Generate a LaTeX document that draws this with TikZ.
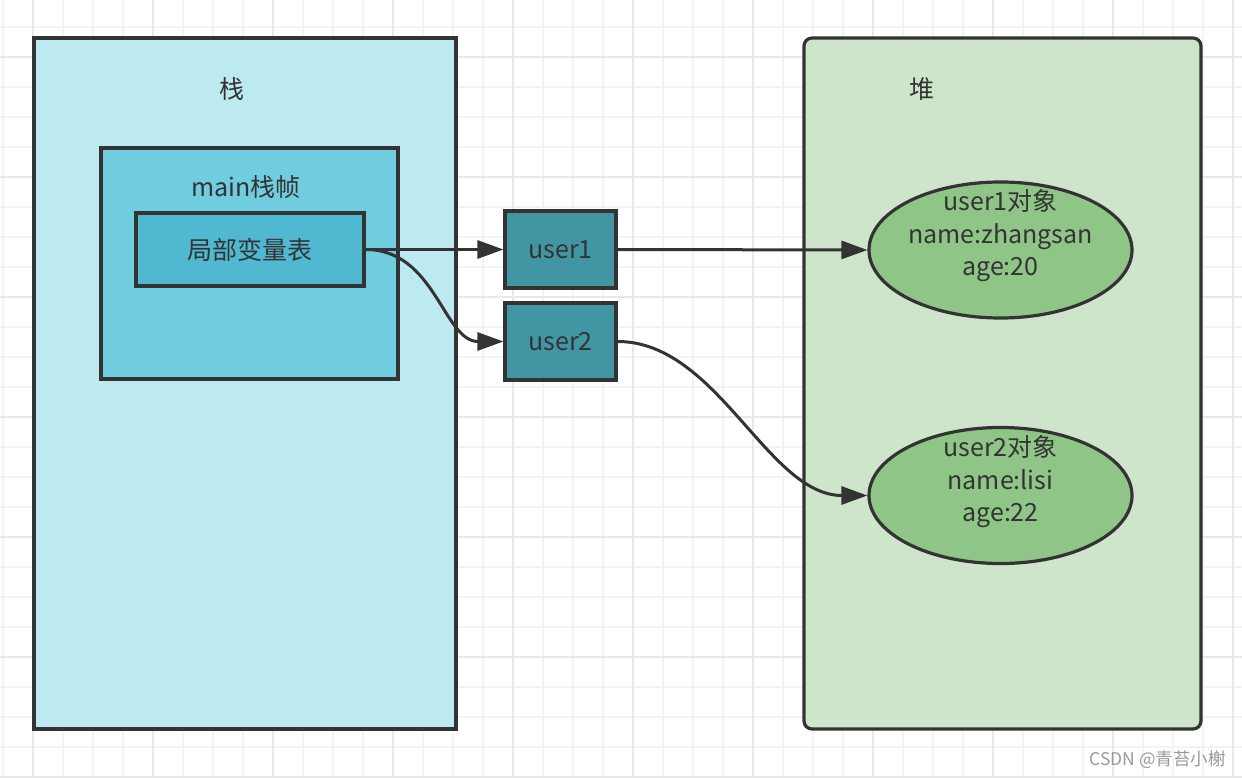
\documentclass[tikz,border=0pt]{standalone}
\usepackage{fontspec}
\setmainfont{Noto Sans CJK SC}
\usetikzlibrary{arrows.meta,shapes.geometric}
\definecolor{ink}{HTML}{333333}
\definecolor{stackfill}{HTML}{BDE9F0}
\definecolor{framefill}{HTML}{70CDDF}
\definecolor{tablefill}{HTML}{50B9D1}
\definecolor{userfill}{HTML}{4295A3}
\definecolor{heapfill}{HTML}{CFE5CB}
\definecolor{objfill}{HTML}{90C588}
\definecolor{gridminor}{HTML}{F3F3F3}
\definecolor{gridmajor}{HTML}{E8E8E8}
\definecolor{wm}{HTML}{9A9A9A}
\tikzset{
  box/.style={draw=ink, line width=3.2pt, inner sep=0pt, text=ink},
  lbl/.style={text=ink, inner sep=0pt, font=\fontsize{25}{30}\selectfont},
  obj/.style={draw=ink, line width=3.2pt, fill=objfill, ellipse, inner sep=0pt, minimum width=263pt, minimum height=136pt},
  objtxt/.style={text=ink, inner sep=0pt, align=center, font=\fontsize{25}{32.5}\selectfont},
  link/.style={draw=ink, line width=3pt, -{Triangle[length=26pt,width=18pt]}},
}
\begin{document}
\begin{tikzpicture}[x=1pt,y=-1pt]
\useasboundingbox (0,0) rectangle (1242,778);
\fill[white] (0,0) rectangle (1242,778);
% grid
\foreach \gx in {3,33,...,1242} \draw[gridminor, line width=1.5pt] (\gx,0) -- (\gx,778);
\foreach \gy in {27,57,...,778} \draw[gridminor, line width=1.5pt] (0,\gy) -- (1242,\gy);
\foreach \gx in {33,153,...,1242} \draw[gridmajor, line width=1.8pt] (\gx,0) -- (\gx,778);
\foreach \gy in {57,177,...,778} \draw[gridmajor, line width=1.8pt] (0,\gy) -- (1242,\gy);

% stack
\node[box, fill=stackfill, minimum width=422pt, minimum height=691pt] (stack) at (245,383.5) {};
\node[lbl] (stacklbl) at (232,89) {栈};
\node[box, fill=framefill, minimum width=297pt, minimum height=231pt] (frame) at (249.5,263.5) {};
\node[lbl] (framelbl) at (246,187) {main栈帧};
\node[box, fill=tablefill, minimum width=228pt, minimum height=73pt, font=\fontsize{25}{30}\selectfont] (table) at (250,249.5) {局部变量表};

% heap
\node[box, fill=heapfill, rounded corners=8pt, minimum width=397pt, minimum height=691pt] (heap) at (1002.5,383.5) {};
\node[lbl] (heaplbl) at (922,89) {堆};

% user refs
\node[box, fill=userfill, minimum width=111pt, minimum height=77pt, font=\fontsize{25}{30}\selectfont] (u1) at (560.5,249.5) {user1};
\node[box, fill=userfill, minimum width=111pt, minimum height=77pt, font=\fontsize{25}{30}\selectfont] (u2) at (560.5,341.5) {user2};

% objects
\node[obj] (o1) at (1000.5,250) {};
\node[objtxt] (o1t) at (1000.5,236) {user1对象\\name:zhangsan\\age:20};
\node[obj] (o2) at (1000.5,495.5) {};
\node[objtxt] (o2t) at (1000.5,482) {user2对象\\name:lisi\\age:22};

% connectors
\draw[link] (table.east) -- (u1.west);
\draw[link] (table.east) .. controls +(70,0) and +(-60,0) .. (u2.west);
\draw[link] (u1.east) -- (o1.west);
\draw[link] (u2.east) .. controls +(100,0) and +(-100,0) .. (o2.west);

% watermark
\node[text=wm, inner sep=0pt, anchor=east, font=\fontsize{17.5}{20}\selectfont] (wmark) at (1226,760) {CSDN @青苔小榭};
\end{tikzpicture}
\end{document}
